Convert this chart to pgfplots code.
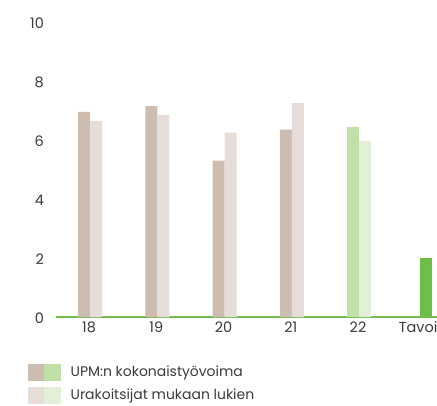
\documentclass[border=0pt]{standalone}
\usepackage{pgfplots}
\pgfplotsset{compat=1.18}
\usepackage{fontspec}
\setmainfont{Poppins}

\definecolor{brdark}{HTML}{CDBCB0}
\definecolor{brlight}{HTML}{E6DDD8}
\definecolor{grdark}{HTML}{BFE0A8}
\definecolor{grlight}{HTML}{E2F0D8}
\definecolor{target}{HTML}{6CBF4A}
\definecolor{axisgreen}{HTML}{72BF4E}
\definecolor{txt}{HTML}{3A3A3A}

\begin{document}
\begin{tikzpicture}
\useasboundingbox (0,0) rectangle (437bp,406bp);
\clip (0,0) rectangle (437bp,406bp);
\begin{axis}[
	at={(90bp,89bp)}, anchor=origin,
	x=67.25bp, y=29.5bp,
	xmin=-0.5, xmax=5.7,
	ymin=0, ymax=10,
	ybar, bar width=12bp,
	axis x line=bottom, axis y line=left,
	y axis line style={draw=none},
	x axis line style={draw=axisgreen, line width=2.5bp, -},
	major tick length=0pt,
	xtick={0,1,2,3,4,5},
	xticklabels={18,19,20,21,22,Tavoite},
	ytick={0,2,4,6,8,10},
	/pgf/number format/assume math mode=true,
	ticklabel style={font=\fontsize{14.5}{16}\selectfont, text=txt},
	xticklabel style={yshift=-1bp, xshift=-1bp},
	yticklabel style={xshift=-9bp, yshift=-1.5bp},
	clip=false,
	legend style={at={(-0.068,-0.159)}, anchor=north west, draw=none, fill=none,
		inner sep=0pt, row sep=6bp,
		font=\fontsize{14}{16}\selectfont, text=txt,
		nodes={inner sep=0pt, anchor=west},
		/tikz/every odd column/.append style={column sep=10bp}},
	legend cell align=left,
]
\addplot[fill=brdark, draw=none, bar shift=-6bp, forget plot] coordinates {(0,6.95) (1,7.15) (2,5.3) (3,6.35)};
\addplot[fill=brlight, draw=none, bar shift=6bp, forget plot] coordinates {(0,6.65) (1,6.85) (2,6.25) (3,7.25)};
\addplot[fill=grdark, draw=none, bar shift=-6bp, forget plot] coordinates {(4,6.45)};
\addplot[fill=grlight, draw=none, bar shift=6bp, forget plot] coordinates {(4,5.95)};
\addplot[fill=target, draw=none, bar shift=0bp, forget plot] coordinates {(5,2.0)};
\addlegendimage{legend image code/.code={
	\fill[brdark] (0bp,-8bp) rectangle (16bp,8bp);
	\fill[grdark] (16bp,-8bp) rectangle (32bp,8bp);}}
\addlegendentry{UPM:n kokonaistyövoima}
\addlegendimage{legend image code/.code={
	\fill[brlight] (0bp,-8bp) rectangle (16bp,8bp);
	\fill[grlight] (16bp,-8bp) rectangle (32bp,8bp);}}
\addlegendentry{Urakoitsijat mukaan lukien}
\end{axis}
\end{tikzpicture}
\end{document}
